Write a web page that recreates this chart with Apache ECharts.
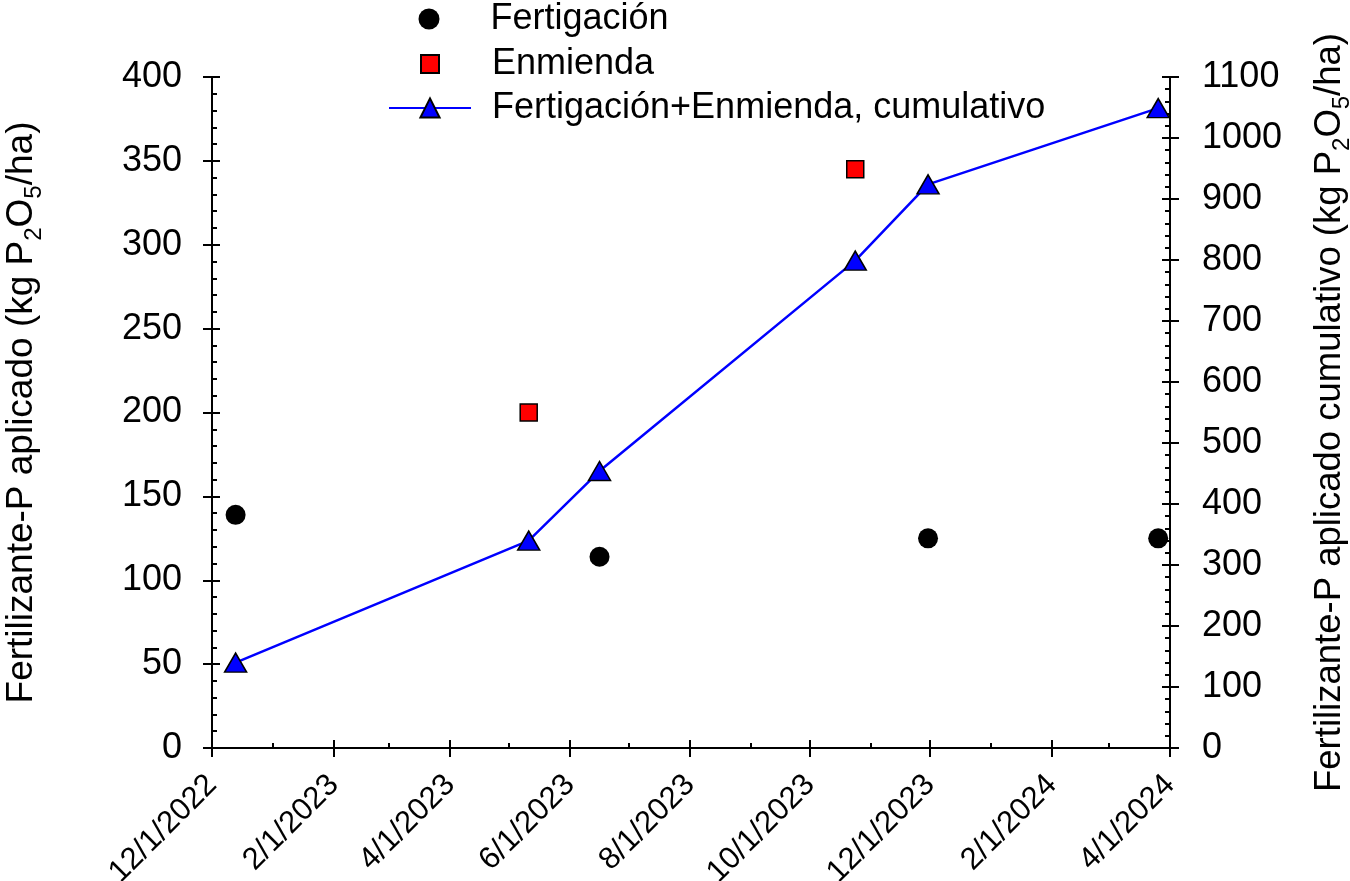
<!DOCTYPE html>
<html><head><meta charset="utf-8">
<script src="https://cdn.jsdelivr.net/npm/echarts@6/dist/echarts.min.js"></script>
<style>html,body{margin:0;padding:0;background:#fff}#c{width:1350px;height:881px}</style>
</head><body><div id="c"></div>
<script>
const xTickDates = ['2022-12-01','2023-02-01','2023-04-01','2023-06-01','2023-08-01','2023-10-01','2023-12-01','2024-02-01','2024-04-01'];
const xMinorTickDates = ['2023-01-01','2023-03-01','2023-05-01','2023-07-01','2023-09-01','2023-11-01','2024-01-01','2024-03-01'];
const fertDates = ['2022-12-13','2023-06-16','2023-11-30','2024-03-26'];
const fertValues = [139, 114, 125, 125];
const enmDates = ['2023-05-11','2023-10-24'];
const enmValues = [200, 345];
const cumDates = ['2022-12-13','2023-05-11','2023-06-16','2023-10-24','2023-11-30','2024-03-26'];
const cumValues = [140, 340, 454, 799, 924, 1049];
const seriesNames = ['Fertigación','Enmienda','Fertigación+Enmienda, cumulativo'];

const FONT = 'Liberation Sans, Arial, sans-serif';
const ms = s => { const [y,m,d] = s.split('-').map(Number); return Date.UTC(y, m-1, d); };
const fmt = v => { const d = new Date(v); return (d.getUTCMonth()+1) + '/' + d.getUTCDate() + '/' + d.getUTCFullYear(); };
const zip = (xs, ys) => xs.map((x, i) => [ms(x), ys[i]]);
const ticks = xTickDates.map(ms);
const minorTicks = xMinorTickDates.map(ms);
const xMin = ticks[0], xMax = ticks[ticks.length - 1];
const black = { color: '#000', width: 2 };

const baseX = { type: 'value', min: xMin, max: xMax, position: 'bottom', splitLine: { show: false }, scale: true };
const nameStyle = (fs) => ({
  fontSize: fs, fontFamily: FONT, color: '#000', lineHeight: 48,
  rich: { s: { fontSize: 24, fontFamily: FONT, color: '#000', verticalAlign: 'bottom', lineHeight: 24 } }
});
const yLabel = (m) => ({ fontSize: 36, fontFamily: FONT, color: '#000', margin: m, formatter: v => String(v) });
const legText = (pad) => ({ fontSize: 36, fontFamily: FONT, color: '#000', lineHeight: 36, padding: [0,0,0,pad] });

const chart = echarts.init(document.getElementById('c'), null, { renderer: 'canvas' });
chart.setOption({
  animation: false,
  backgroundColor: '#fff',
  grid: { left: 212, right: 180, top: 77, bottom: 133, outerBoundsMode: 'none' },
  legend: [
    { data: [seriesNames[0]], left: 418.5, top: 1, padding: 0, orient: 'vertical', itemWidth: 21, itemHeight: 21, selectedMode: false,
      textStyle: legText(46) },
    { data: [seriesNames[1]], left: 420, top: 46, padding: 0, orient: 'vertical', itemWidth: 18, itemHeight: 18, selectedMode: false,
      textStyle: legText(48) },
    { data: [seriesNames[2]], left: 388, top: 90, padding: 0, orient: 'vertical', itemWidth: 82, itemHeight: 24, selectedMode: false,
      textStyle: legText(16) }
  ],
  xAxis: [
    Object.assign({}, baseX, {
      axisLine: { show: true, onZero: false, lineStyle: black },
      axisTick: { show: true, customValues: ticks, inside: false, length: 9, lineStyle: black },
      axisLabel: { show: true, customValues: ticks, formatter: fmt, rotate: 45, fontSize: 31, fontFamily: FONT, color: '#000', margin: 32 }
    }),
    Object.assign({}, baseX, {
      axisLine: { show: false },
      axisTick: { show: true, customValues: ticks, inside: true, length: 8, lineStyle: black },
      axisLabel: { show: false }
    }),
    Object.assign({}, baseX, {
      axisLine: { show: false },
      axisTick: { show: true, customValues: minorTicks, inside: true, length: 5, lineStyle: black },
      axisLabel: { show: false }
    })
  ],
  yAxis: [
    { type: 'value', position: 'left', min: 0, max: 400, interval: 50,
      name: 'Fertilizante-P aplicado (kg P{s|2}O{s|5}/ha)', nameLocation: 'middle', nameGap: 166, nameTextStyle: nameStyle(37),
      axisLine: { show: true, lineStyle: black },
      axisTick: { show: true, inside: false, length: 9, lineStyle: black },
      axisLabel: yLabel(30), splitLine: { show: false } },
    { type: 'value', position: 'right', min: 0, max: 1100, interval: 100,
      name: 'Fertilizante-P aplicado cumulativo (kg P{s|2}O{s|5}/ha)', nameLocation: 'middle', nameGap: 136, nameTextStyle: nameStyle(36.5),
      axisLine: { show: true, lineStyle: black },
      axisTick: { show: true, inside: false, length: 9, lineStyle: black },
      axisLabel: yLabel(32), splitLine: { show: false } },
    { type: 'value', position: 'left', min: 0, max: 400, interval: 50,
      axisLine: { show: false },
      axisTick: { show: true, inside: true, length: 8, lineStyle: black },
      minorTick: { show: true, splitNumber: 5, length: 5, lineStyle: black },
      axisLabel: { show: false }, splitLine: { show: false } },
    { type: 'value', position: 'right', min: 0, max: 1100, interval: 100,
      axisLine: { show: false },
      axisTick: { show: true, inside: true, length: 8, lineStyle: black },
      minorTick: { show: true, splitNumber: 5, length: 5, lineStyle: black },
      axisLabel: { show: false }, splitLine: { show: false } }
  ],
  series: [
    { name: seriesNames[2], type: 'line', xAxisIndex: 0, yAxisIndex: 1, data: zip(cumDates, cumValues),
      symbol: 'triangle', symbolSize: [22, 19], z: 3,
      lineStyle: { color: '#0000ff', width: 2.5 },
      itemStyle: { color: '#0000ff', borderColor: '#000', borderWidth: 1.5 } },
    { name: seriesNames[0], type: 'scatter', xAxisIndex: 0, yAxisIndex: 0, data: zip(fertDates, fertValues),
      symbol: 'circle', symbolSize: 20, z: 4,
      itemStyle: { color: '#000', opacity: 1 } },
    { name: seriesNames[1], type: 'scatter', xAxisIndex: 0, yAxisIndex: 0, data: zip(enmDates, enmValues),
      symbol: 'rect', symbolSize: 17, z: 4,
      itemStyle: { color: '#ff0000', borderColor: '#000', borderWidth: 1.5, opacity: 1 } }
  ]
});
</script></body></html>
